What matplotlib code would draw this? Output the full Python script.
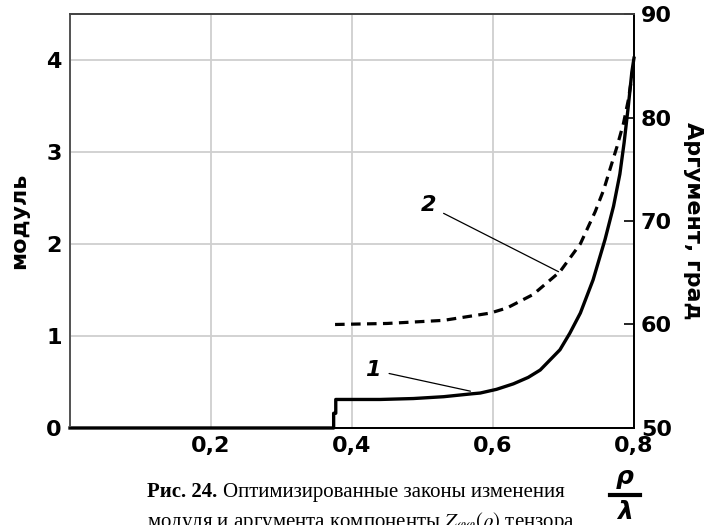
import matplotlib.pyplot as plt
from matplotlib.lines import Line2D

# curve 1: modulus (left axis)
rho1 = [0.0, 0.374, 0.374, 0.377, 0.377, 0.44, 0.487, 0.53, 0.568, 0.582, 0.605,
        0.629, 0.65, 0.667, 0.695, 0.709, 0.724, 0.742, 0.759, 0.771, 0.780,
        0.786, 0.792, 0.797, 0.80]
mod1 = [0.0, 0.0, 0.16, 0.16, 0.31, 0.31, 0.32, 0.34, 0.37, 0.38, 0.42,
        0.48, 0.55, 0.63, 0.85, 1.03, 1.25, 1.61, 2.05, 2.41, 2.76,
        3.10, 3.50, 3.87, 4.02]

# curve 2: argument, degrees (right axis)
rho2 = [0.376, 0.45, 0.53, 0.596, 0.62, 0.657, 0.695, 0.724, 0.745, 0.757,
        0.766, 0.776, 0.785, 0.792, 0.80]
arg2 = [60.0, 60.1, 60.4, 61.1, 61.6, 62.9, 65.1, 67.8, 70.9, 73.0,
        75.0, 77.2, 79.4, 81.7, 85.3]

x_ticks = [0.2, 0.4, 0.6, 0.8]
x_labels = ['0,2', '0,4', '0,6', '0,8']
y_ticks = [0, 1, 2, 3, 4]
y2_ticks = [50, 60, 70, 80, 90]

fig = plt.figure(figsize=(7.07, 5.25), dpi=100)
ax = fig.add_axes([0.099, 0.1848, 0.7977, 0.7885])
ax2 = ax.twinx()

tick_font = dict(fontsize=16, fontweight='bold', family='DejaVu Sans')

ax.set_xlim(0, 0.8)
ax.set_ylim(0, 4.5)
ax.set_xticks(x_ticks)
ax.set_xticklabels(x_labels, **tick_font)
ax.set_yticks(y_ticks)
ax.set_yticklabels([str(v) for v in y_ticks], **tick_font)
ax.tick_params(axis='both', length=0, pad=6)
ax.grid(True, color='#cfcfcf', lw=1.3)
ax.set_axisbelow(True)

ax2.set_ylim(50, 90)
ax2.set_yticks(y2_ticks)
ax2.set_yticklabels([str(v) for v in y2_ticks], **tick_font)
ax2.tick_params(axis='y', direction='in', length=7, width=1.2, pad=5)

for a in (ax, ax2):
    a.spines['top'].set_color('#444444')
    a.spines['left'].set_color('#555555')
    a.spines['right'].set_color('black')
    for s in a.spines.values():
        s.set_linewidth(1.3)

ax.plot(rho1, mod1, color='black', lw=2.4, solid_joinstyle='round', clip_on=False, zorder=5)
ax2.plot(rho2, arg2, color='black', lw=2.3, dashes=(3, 2), zorder=5)

ax.set_ylabel('модуль', fontsize=16, fontweight='bold', labelpad=12)
ax2.set_ylabel('Аргумент, град', fontsize=16, fontweight='bold', rotation=-90, labelpad=22)

# curve labels with leader lines
lab_font = dict(fontsize=16, fontweight='bold', style='italic')
ax.annotate('1', xy=(0.568, 0.40), xytext=(0.43, 0.63), ha='center', va='center',
            arrowprops=dict(arrowstyle='-', lw=0.9, color='black', shrinkA=4, shrinkB=0),
            **lab_font)
ax2.annotate('2', xy=(0.693, 65.1), xytext=(0.508, 71.5), ha='center', va='center',
             arrowprops=dict(arrowstyle='-', lw=0.9, color='black', shrinkA=4, shrinkB=0),
             **lab_font)

# x-axis quantity rho / lambda
fig.text(0.884, 0.091, 'ρ', fontsize=18, fontweight='bold', style='italic', ha='center', va='center')
fig.text(0.884, 0.025, 'λ', fontsize=18, fontweight='bold', style='italic', ha='center', va='center')
fig.add_artist(Line2D([0.863, 0.905], [0.057, 0.057], color='black', lw=3))

# caption
plt.rcParams['mathtext.fontset'] = 'stix'
fig.text(0.208, 0.053, 'Рис. 24.', fontsize=15, fontweight='bold', family='Liberation Serif')
fig.text(0.315, 0.053, 'Оптимизированные законы изменения', fontsize=15, family='Liberation Serif')
fig.text(0.208, -0.004, r'модуля и аргумента компоненты $Z_{\varphi\varphi}(\rho)$ тензора',
         fontsize=15, family='Liberation Serif')

fig.savefig('out.png', dpi=100)
